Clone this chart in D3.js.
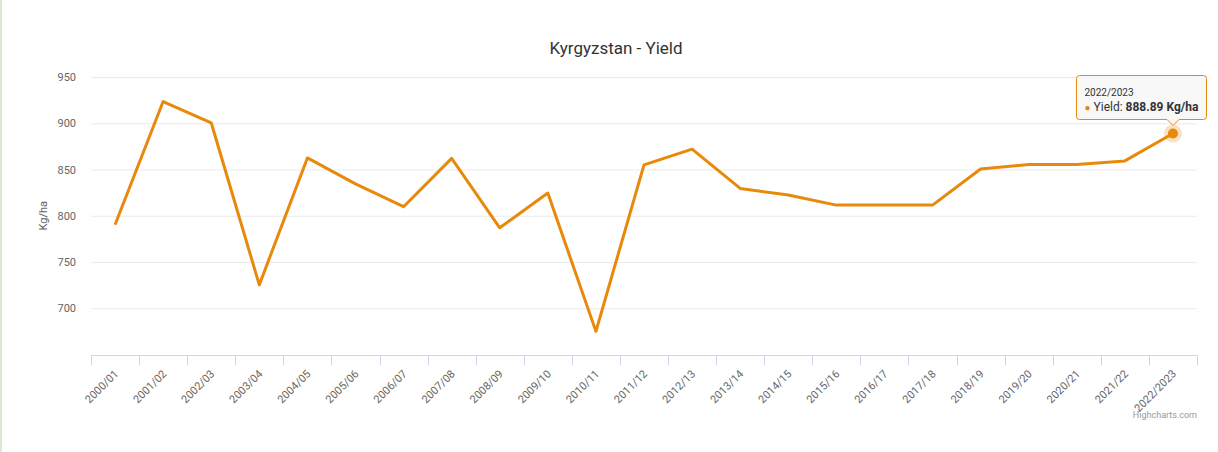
<!DOCTYPE html>
<html>
<head>
<meta charset="utf-8">
<script src="https://cdn.jsdelivr.net/npm/d3@7"></script>
<style>
  body { margin: 0; background: #fff; }
  svg { display: block; font-family: Roboto, "Liberation Sans", Arial, sans-serif; }
</style>
</head>
<body>
<svg id="chart" width="1218" height="452"></svg>
<script>
const categories = [
  '2000/01', '2001/02', '2002/03', '2003/04', '2004/05', '2005/06',
  '2006/07', '2007/08', '2008/09', '2009/10', '2010/11', '2011/12',
  '2012/13', '2013/14', '2014/15', '2015/16', '2016/17', '2017/18',
  '2018/19', '2019/20', '2020/21', '2021/22', '2022/2023'
]
const yieldValues = [
  790.3, 923.5, 900.5, 725.3, 862.5, 834.5,
  809.8, 862, 787, 824.5, 675, 855,
  872, 829.5, 822.5, 811.5, 811.5, 811.5,
  850.5, 855.5, 855.5, 859.3, 888.89
]
const yTicks = [700, 750, 800, 850, 900, 950]

const color = '#e8890c'
const plot = { left: 91, right: 1197, top: 77, bottom: 354.5 }

const svg = d3.select('#chart')

// thin green strip on the left edge of the page
svg.append('rect')
    .attr('x', 0).attr('y', 0)
    .attr('width', 2).attr('height', 452)
    .attr('fill', '#dce8d6')

const x = d3.scaleBand()
    .domain(categories)
    .range([plot.left, plot.right])
    .paddingInner(0)
    .paddingOuter(0)

const y = d3.scaleLinear()
    .domain([650, 950])
    .range([plot.bottom, plot.top])

const cx = d => x(d) + x.bandwidth() / 2

// title
svg.append('text')
    .attr('x', 616)
    .attr('y', 54)
    .attr('text-anchor', 'middle')
    .attr('font-size', 17)
    .attr('fill', '#333')
    .text('Kyrgyzstan - Yield')

// grid + y labels
const yAxis = d3.axisLeft(y)
    .tickValues(yTicks)
    .tickSize(-(plot.right - plot.left))
    .tickPadding(15)

svg.append('g')
    .attr('class', 'y axis')
    .attr('transform', `translate(${plot.left},0)`)
    .call(yAxis)
    .call(g => g.select('.domain').remove())
    .call(g => g.selectAll('.tick line').attr('stroke', '#ebebeb'))
    .call(g => g.selectAll('.tick text')
        .attr('fill', '#666')
        .attr('font-size', 11)
        .attr('font-family', 'Roboto, sans-serif'))

svg.append('text')
    .attr('transform', `translate(47,${(plot.top + plot.bottom) / 2}) rotate(-90)`)
    .attr('text-anchor', 'middle')
    .attr('font-size', 11)
    .attr('fill', '#666')
    .text('Kg/ha')

// x axis: ticks between categories
const xg = svg.append('g').attr('class', 'x axis')
const axisY = Math.round(plot.bottom) + 0.5

xg.append('line')
    .attr('x1', plot.left).attr('x2', plot.right)
    .attr('y1', axisY).attr('y2', axisY)
    .attr('stroke', '#ccd6eb')

const tickPos = categories.map(d => x(d)).concat([x.range()[1]])
xg.selectAll('.tick')
    .data(tickPos)
  .enter().append('line')
    .attr('class', 'tick')
    .attr('x1', d => Math.round(d) + 0.5)
    .attr('x2', d => Math.round(d) + 0.5)
    .attr('y1', axisY)
    .attr('y2', axisY + 10)
    .attr('stroke', '#ccd6eb')

xg.selectAll('.label')
    .data(categories)
  .enter().append('text')
    .attr('class', 'label')
    .attr('transform', d => `translate(${cx(d) + 4},${axisY + 19}) rotate(-45)`)
    .attr('text-anchor', 'end')
    .attr('font-size', 11)
    .attr('fill', '#666')
    .text(d => d)

// line
const line = d3.line()
    .x((d, i) => cx(categories[i]))
    .y(d => y(d))

svg.append('path')
    .datum(yieldValues)
    .attr('fill', 'none')
    .attr('stroke', color)
    .attr('stroke-width', 3)
    .attr('stroke-linejoin', 'round')
    .attr('d', line)

// hovered point
const lastI = categories.length - 1
const px = cx(categories[lastI])
const py = y(yieldValues[lastI])

svg.append('circle')
    .attr('cx', px).attr('cy', py).attr('r', 9)
    .attr('fill', color).attr('opacity', 0.25)
svg.append('circle')
    .attr('cx', px).attr('cy', py).attr('r', 5)
    .attr('fill', color)

// tooltip
const tt = { x: 1076.5, y: 75.5, w: 130, h: 44 }
const tip = svg.append('g').attr('class', 'tooltip')
const bx = tt.x, by = tt.y, bw = tt.w, bh = tt.h, r = 3
const ax = Math.round(px)
tip.append('path')
    .attr('d', `M${bx + r},${by} H${bx + bw - r} Q${bx + bw},${by} ${bx + bw},${by + r}` +
      ` V${by + bh - r} Q${bx + bw},${by + bh} ${bx + bw - r},${by + bh}` +
      ` H${ax + 6} L${ax},${by + bh + 6} L${ax - 6},${by + bh}` +
      ` H${bx + r} Q${bx},${by + bh} ${bx},${by + bh - r} V${by + r} Q${bx},${by} ${bx + r},${by} Z`)
    .attr('fill', 'rgba(247,247,247,0.85)')
    .attr('stroke', color)
    .attr('stroke-width', 1)

tip.append('text')
    .attr('x', bx + 8).attr('y', by + 20)
    .attr('font-size', 10)
    .attr('fill', '#333')
    .text(categories[lastI])

const t2 = tip.append('text')
    .attr('x', bx + 8).attr('y', by + 35)
    .attr('font-size', 12)
    .attr('fill', '#333')
t2.append('tspan').attr('fill', color).attr('font-size', 10).text('●')
t2.append('tspan').text(' Yield: ')
t2.append('tspan').attr('font-weight', 'bold').text(d3.format('.2f')(yieldValues[lastI]) + ' Kg/ha')

// credits
svg.append('text')
    .attr('x', 1197)
    .attr('y', 418)
    .attr('text-anchor', 'end')
    .attr('font-size', 9)
    .attr('fill', '#999')
    .text('Highcharts.com')
</script>
</body>
</html>
